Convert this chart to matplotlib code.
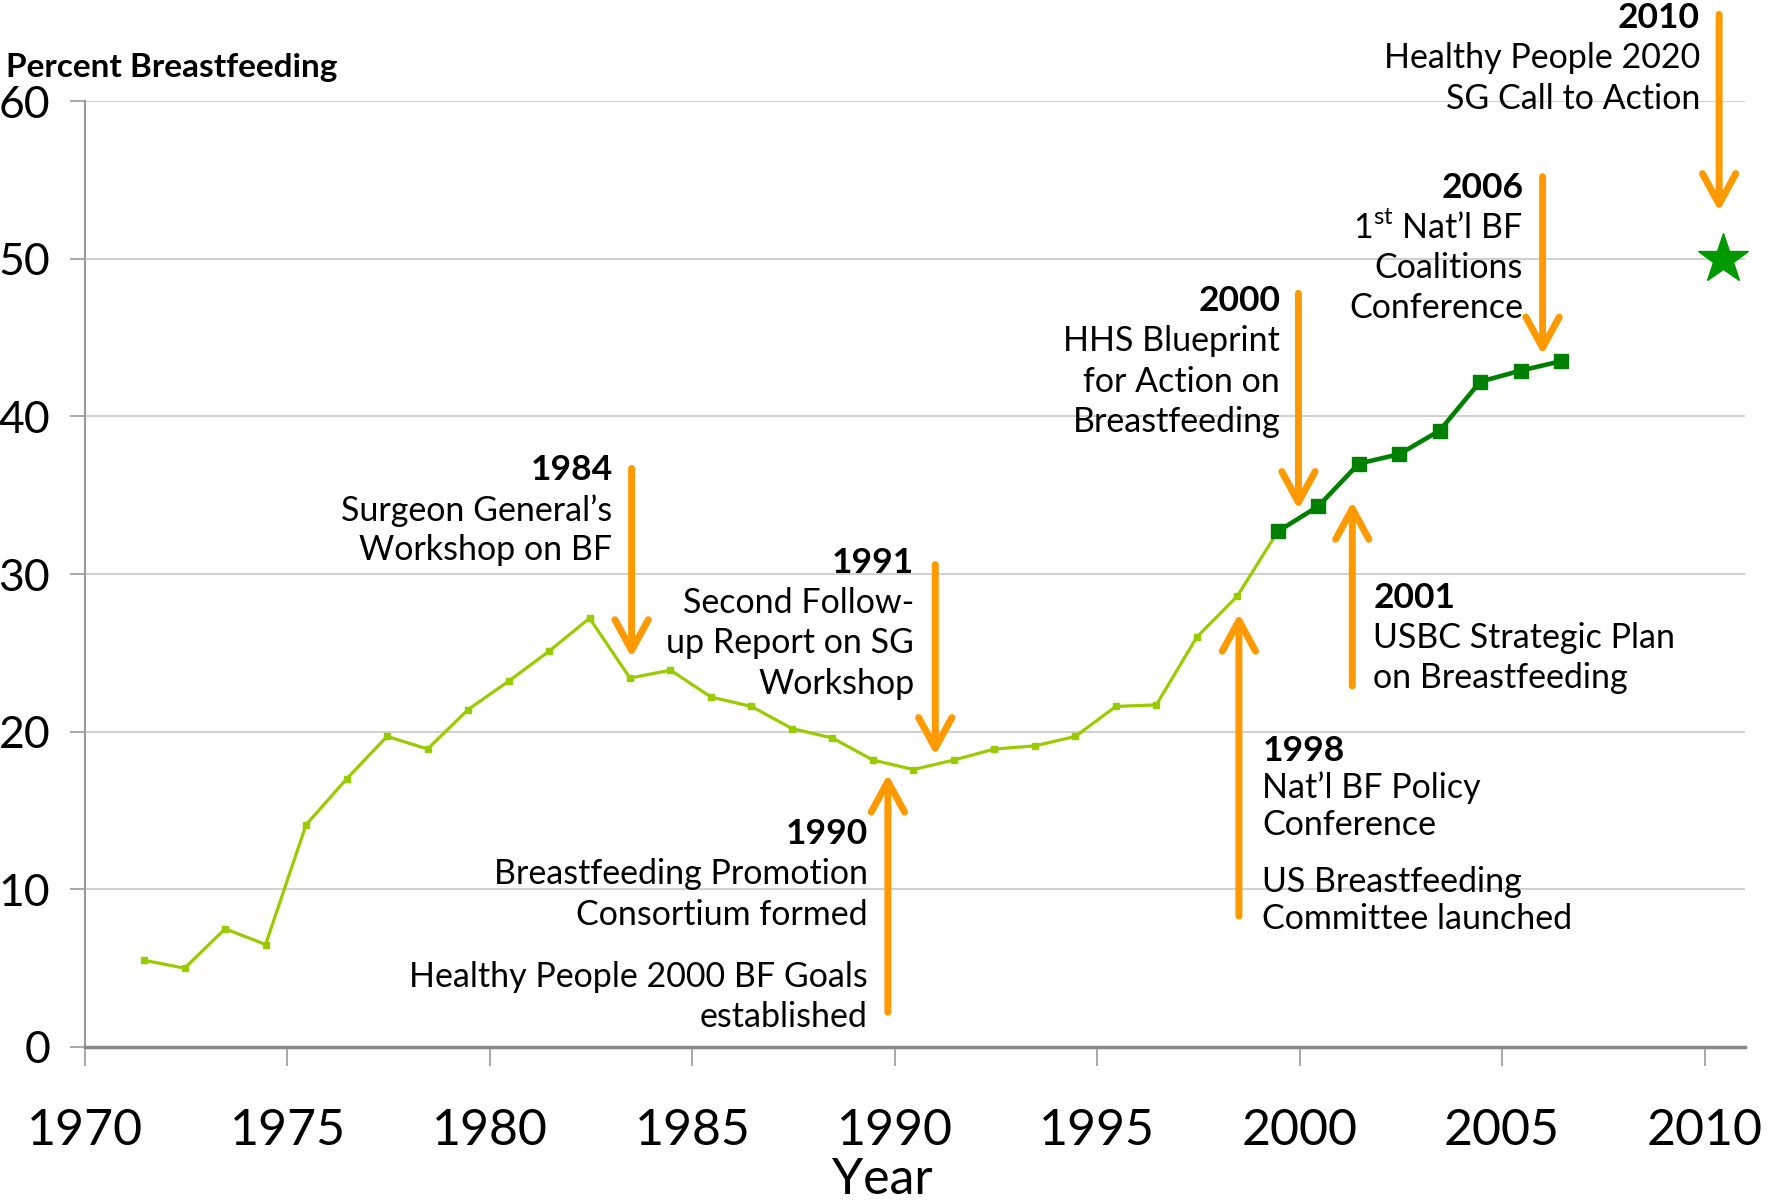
import matplotlib
matplotlib.use("Agg")
import matplotlib.pyplot as plt

plt.rcParams['font.family'] = ['Lato', 'DejaVu Sans']
plt.rcParams['mathtext.fontset'] = 'custom'
plt.rcParams['mathtext.rm'] = 'Lato'

# данные: процент грудного вскармливания (6 месяцев)
years_early = list(range(1971, 2000))
bf_early = [5.5, 5.0, 7.5, 6.5, 14.1, 17.0, 19.7, 18.9, 21.4, 23.2,
            25.1, 27.2, 23.4, 23.9, 22.2, 21.6, 20.2, 19.6, 18.2, 17.6,
            18.2, 18.9, 19.1, 19.7, 21.6, 21.7, 26.0, 28.6, 32.7]
years_late = list(range(1999, 2007))
bf_late = [32.7, 34.3, 37.0, 37.6, 39.1, 42.2, 42.9, 43.5]
goal_year = 2010
goal_value = 50

x_ticks = list(range(1970, 2011, 5))
y_ticks = list(range(0, 61, 10))

# события (год, текст)
events = [
    ('1984', ["Surgeon General’s", "Workshop on BF"]),
    ('1991', ["Second Follow-", "up Report on SG", "Workshop"]),
    ('1990', ["Breastfeeding Promotion", "Consortium formed", "",
              "Healthy People 2000 BF Goals", "established"]),
    ('1998', ["Nat’l BF Policy", "Conference", "",
              "US Breastfeeding", "Committee launched"]),
    ('2000', ["HHS Blueprint", "for Action on", "Breastfeeding"]),
    ('2001', ["USBC Strategic Plan", "on Breastfeeding"]),
    ('2006', ["1$^{\\rm st}$ Nat’l BF", "Coalitions", "Conference"]),
    ('2010', ["Healthy People 2020", "SG Call to Action"]),
]

LIGHT = '#99CC00'
DARK = '#008000'
ORANGE = '#FF9900'
SHIFT = 0.46  # точки стоят между делениями, как в Excel


def note(ax, x, y, year, lines, ha, step=2.55):
    ax.text(x, y, year, ha=ha, va='center', fontsize=25.5,
            fontweight='bold', clip_on=False)
    yy = y
    for line in lines:
        if line == '':
            yy -= step * 0.55
            continue
        yy -= step
        ax.text(x, yy, line, ha=ha, va='center', fontsize=24.5, clip_on=False)


def arrow(ax, x, y0, y1):
    ax.annotate('', xy=(x, y1), xytext=(x, y0),
                arrowprops=dict(arrowstyle='->,head_length=1.1,head_width=0.6',
                                color=ORANGE, lw=5, mutation_scale=20,
                                shrinkA=0, shrinkB=0),
                annotation_clip=False)


def main():
    fig = plt.figure(figsize=(17.79, 12.04), dpi=100)
    ax = fig.add_axes([0.0478, 0.1304, 0.9331, 0.7857])

    ax.plot([y + SHIFT for y in years_early], bf_early, color=LIGHT, lw=2.3,
            marker='s', ms=5, zorder=3)
    ax.plot([y + SHIFT for y in years_late], bf_late, color=DARK, lw=3.3,
            marker='s', ms=10.5, zorder=4)
    ax.plot([goal_year + SHIFT], [goal_value], marker='*', ms=38,
            color='#009900', lw=0, clip_on=False, zorder=5)

    ax.set_xlim(1970, 2011)
    ax.set_ylim(0, 60)
    ax.set_xticks(x_ticks)
    ax.set_yticks(y_ticks)
    ax.grid(axis='y', color='#cccccc', lw=1.3)
    ax.set_axisbelow(True)
    for s in ['top', 'right']:
        ax.spines[s].set_visible(False)
    ax.spines['left'].set_color('#999999')
    ax.spines['left'].set_linewidth(1.5)
    ax.spines['bottom'].set_color('#888888')
    ax.spines['bottom'].set_linewidth(2.5)
    ax.tick_params(axis='x', direction='out', length=14, width=1.2,
                   color='#999999', labelsize=36, pad=30)
    ax.tick_params(axis='y', direction='out', length=11, width=1.2,
                   color='#999999', labelsize=32, pad=14)

    fig.text(0.0034, 0.944, 'Percent Breastfeeding', fontsize=24,
             fontweight='bold', va='center', ha='left')
    fig.text(0.496, 0.02, 'Year', fontsize=36, va='center', ha='center')

    # подписи событий
    txt = dict(events)
    note(ax, 1983.03, 36.6, '1984', txt['1984'], 'right')
    note(ax, 1990.48, 30.7, '1991', txt['1991'], 'right')
    note(ax, 1989.33, 13.5, '1990', txt['1990'], 'right')
    note(ax, 1999.08, 18.8, '1998', txt['1998'], 'left', step=2.35)
    note(ax, 1999.52, 47.3, '2000', txt['2000'], 'right')
    note(ax, 2001.82, 28.5, '2001', txt['2001'], 'left')
    note(ax, 2005.52, 54.5, '2006', txt['2006'], 'right')
    note(ax, 2009.89, 65.25, '2010', txt['2010'], 'right')

    # стрелки
    arrow(ax, 1983.5, 36.7, 24.7)
    arrow(ax, 1991.0, 30.6, 18.5)
    arrow(ax, 1989.83, 2.2, 17.3)
    arrow(ax, 1998.5, 8.3, 27.5)
    arrow(ax, 1999.97, 47.8, 34.1)
    arrow(ax, 2001.3, 22.9, 34.6)
    arrow(ax, 2006.0, 55.2, 43.9)
    arrow(ax, 2010.36, 65.5, 53.0)

    fig.savefig('out.png', dpi=100)


if __name__ == "__main__":
    main()
